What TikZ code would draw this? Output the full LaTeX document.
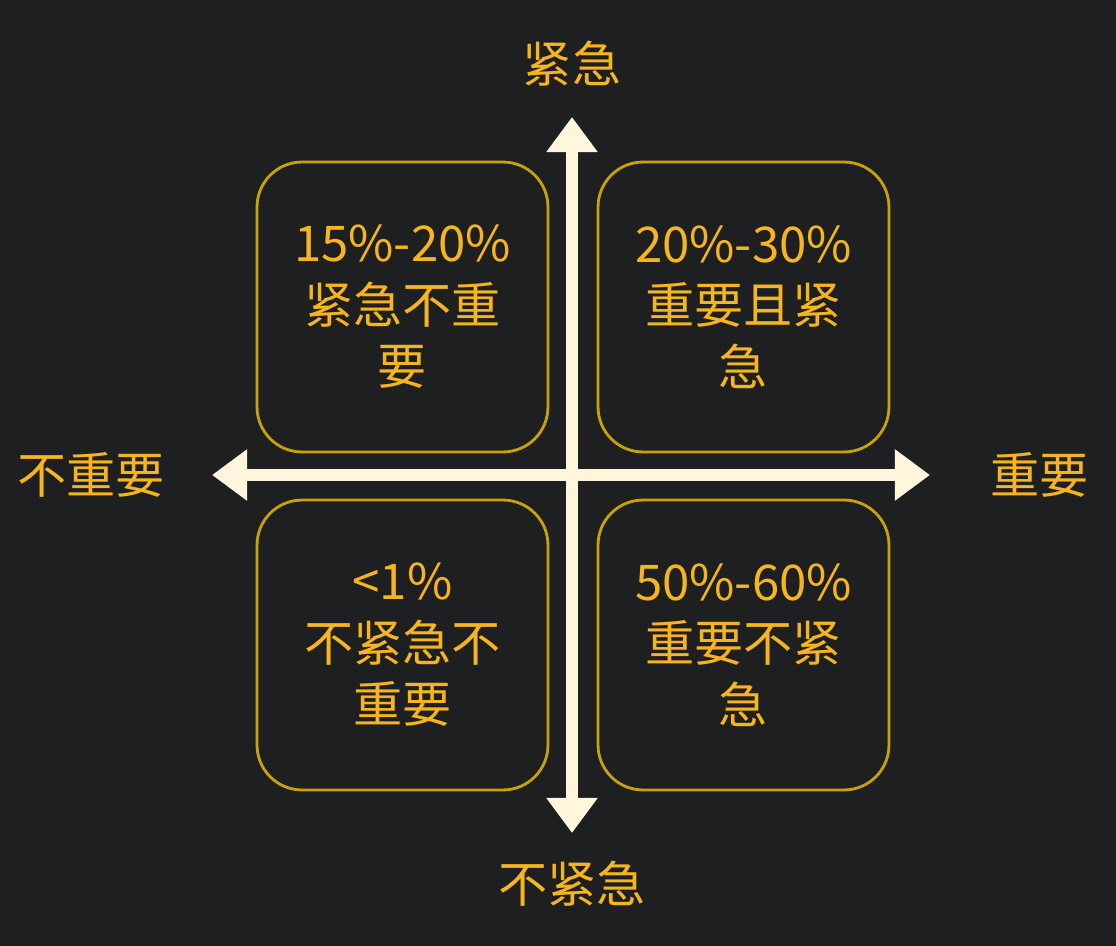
\documentclass[tikz,border=0pt]{standalone}
\usepackage{fontspec}
\setmainfont{Noto Sans CJK SC}
\usetikzlibrary{positioning,arrows.meta,calc}
\definecolor{bgdark}{HTML}{1E1F21}
\definecolor{goldtext}{HTML}{F6B41E}
\definecolor{goldline}{HTML}{C9A20A}
\definecolor{cream}{HTML}{FFF6DC}

\begin{document}
\begin{tikzpicture}[
    x=0.02cm, y=-0.02cm,
    every node/.style={font=\fontsize{28}{35}\selectfont, text=goldtext},
    quadrant/.style={rectangle, draw=goldline, line width=1.6pt, rounded corners=0.9cm,
        minimum width=5.82cm, minimum height=5.8cm, align=center},
    axislabel/.style={inner sep=0pt},
    axis/.style={cream, line width=6.8pt, -{Triangle[width=28pt,length=20pt]}}
]

% Background and bounding box
\fill[bgdark] (0,0) rectangle (1116,946);
\useasboundingbox (0,0) rectangle (1116,946);

% Axis end points
\coordinate (origin) at (572,475);
\coordinate (up) at (572,117);
\coordinate (down) at (572,833);
\coordinate (left) at (212,475);
\coordinate (right) at (930,475);

% Quadrants
\node[quadrant] (urgent_minor) at (402.5,307) {15\%-20\%\\紧急不重\\要};
\node[quadrant] (urgent_major) at (743.5,307) {20\%-30\%\\重要且紧\\急};
\node[quadrant] (calm_minor) at (402.5,645) {<1\%\\不紧急不\\重要};
\node[quadrant] (calm_major) at (743.5,645) {50\%-60\%\\重要不紧\\急};

% Axes
\draw[axis] (origin) -- (up);
\draw[axis] (origin) -- (down);
\draw[axis] (origin) -- (left);
\draw[axis] (origin) -- (right);

% Axis labels
\node[axislabel, above=0.6cm of up] (lbl_up) {紧急};
\node[axislabel, below=0.55cm of down] (lbl_down) {不紧急};
\node[axislabel, left=0.94cm of left] (lbl_left) {不重要};
\node[axislabel, right=1.2cm of right] (lbl_right) {重要};

\end{tikzpicture}
\end{document}
